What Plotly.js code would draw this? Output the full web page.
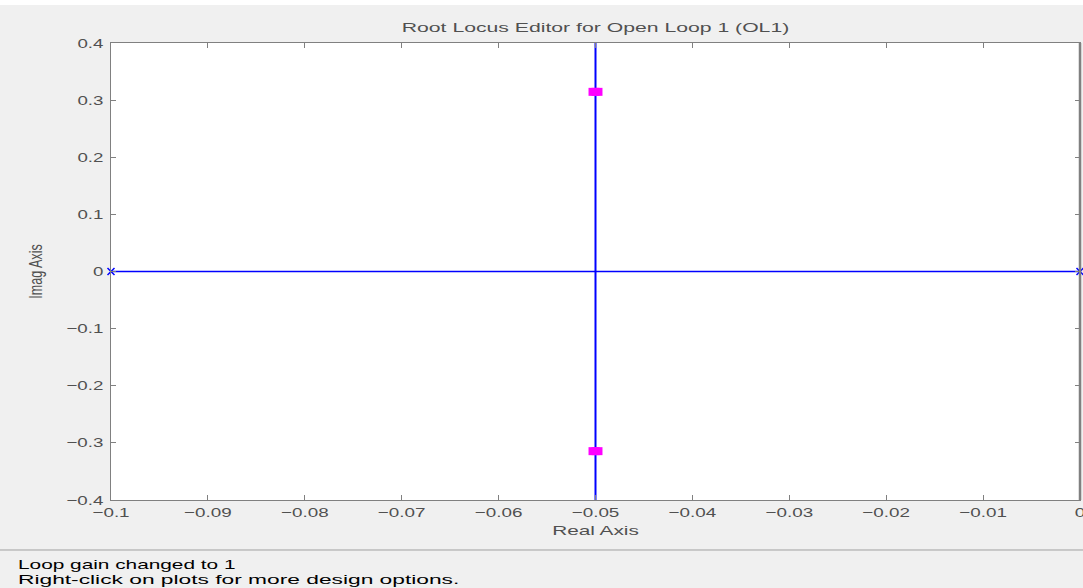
<!DOCTYPE html>
<html>
<head>
<meta charset="utf-8">
<script src="https://cdn.plot.ly/plotly-3.0.1.min.js"></script>
<style>
html,body{margin:0;padding:0;background:#ffffff;}
#chart{position:absolute;left:0;top:5px;width:1083px;height:583px;}
</style>
</head>
<body>
<div id="chart"></div>
<script>
// Root locus data
const realLocusX = [-0.1, 0];
const realLocusY = [0, 0];
const branchX = [-0.05, -0.05];
const branchY = [-0.45, 0.45];
const openPolesX = [-0.1, 0];
const openPolesY = [0, 0];
const closedPolesX = [-0.05, -0.05];
const closedPolesY = [0.3145, -0.3145];
const xTickVals = [-0.1, -0.09, -0.08, -0.07, -0.06, -0.05, -0.04, -0.03, -0.02, -0.01, 0];
const xTickText = ['\u22120.1','\u22120.09','\u22120.08','\u22120.07','\u22120.06','\u22120.05','\u22120.04','\u22120.03','\u22120.02','\u22120.01','0'];
const yTickVals = [-0.4, -0.3, -0.2, -0.1, 0, 0.1, 0.2, 0.3, 0.4];
const yTickText = ['\u22120.4','\u22120.3','\u22120.2','\u22120.1','0','0.1','0.2','0.3','0.4'];
const statusLines = ['Loop gain changed to 1', 'Right-click on plots for more design options.'];

const blue = '#0000ff';
const traces = [
  {x: realLocusX, y: realLocusY, mode: 'lines', line: {color: blue, width: 1.5}, hoverinfo: 'skip', showlegend: false},
  {x: branchX, y: branchY, mode: 'lines', line: {color: blue, width: 2}, hoverinfo: 'skip', showlegend: false},
  {x: openPolesX, y: openPolesY, mode: 'markers', marker: {symbol: 'x-thin', size: 7, color: blue, line: {color: blue, width: 1.5}}, cliponaxis: false, showlegend: false},
  {x: closedPolesX, y: closedPolesY, mode: 'markers',
   marker: {symbol: 'square', size: 8, color: '#ff00ff', line: {width: 0}},
   error_x: {type: 'constant', value: 0.00072, color: '#ff00ff', thickness: 8, width: 0},
   showlegend: false}
];

const fam = 'Liberation Sans, Arial, sans-serif';
const grey = '#505050';
const layout = {
  width: 1083, height: 583,
  margin: {l: 111, r: 3, t: 38, b: 88},
  paper_bgcolor: '#f0f0f0', plot_bgcolor: '#ffffff',
  font: {family: fam, size: 13, color: grey},
  title: {text: 'Root Locus Editor for Open Loop 1 (OL1)', font: {family: fam, size: 13, color: grey}, x: 0.5, xref: 'paper', xanchor: 'center', y: 1, yref: 'paper', yanchor: 'bottom', pad: {b: 11}},
  xaxis: {range: [-0.1, 0], tickvals: xTickVals, ticktext: xTickText, ticks: 'inside', ticklen: 5, tickcolor: '#808080',
          showline: true, linecolor: '#808080', linewidth: 1, mirror: 'ticks', showgrid: false, zeroline: false,
          ticklabeloverflow: 'allow',
          tickfont: {family: fam, size: 13, color: grey},
          title: {text: 'Real Axis', font: {family: fam, size: 13, color: grey}, standoff: 7}},
  yaxis: {range: [-0.4, 0.4], tickvals: yTickVals, ticktext: yTickText, ticks: 'inside', ticklen: 5, tickcolor: '#808080',
          showline: true, linecolor: '#808080', linewidth: 1, mirror: 'ticks', showgrid: false, zeroline: false,
          ticklabeloverflow: 'allow', ticklabelstandoff: 4,
          tickfont: {family: fam, size: 13, color: grey},
          title: {text: 'Imag Axis', font: {family: fam, size: 19, color: grey}, standoff: 30}},
  shapes: [
    {type: 'line', xref: 'paper', yref: 'paper', x0: -0.2, x1: 1.01, y0: -0.1094, y1: -0.1094, line: {color: '#a0a0a0', width: 1}},
    {type: 'line', xref: 'paper', yref: 'paper', x0: 1, x1: 1, y0: 0, y1: 1, line: {color: '#808080', width: 2.5}}
  ],
  annotations: [
    {text: statusLines[0], xref: 'paper', yref: 'paper', x: -0.0978, y: -0.1422, xanchor: 'left', yanchor: 'middle', showarrow: false, font: {family: fam, size: 13, color: '#000000'}},
    {text: statusLines[1], xref: 'paper', yref: 'paper', x: -0.0978, y: -0.175, xanchor: 'left', yanchor: 'middle', showarrow: false, font: {family: fam, size: 13, color: '#000000'}}
  ]
};

// The reference screenshot is horizontally stretched; widen the text glyphs to match.
function stretchEl(t, factor, keepLeft) {
  const w = t.getComputedTextLength();
  if (w > 0) {
    if (keepLeft) {
      const x = parseFloat(t.getAttribute('x')) || 0;
      t.setAttribute('x', (x - w / 2).toFixed(1));
      t.setAttribute('text-anchor', 'start');
      t.style.textAnchor = 'start';
    }
    t.setAttribute('textLength', (w * factor).toFixed(1));
    t.setAttribute('lengthAdjust', 'spacingAndGlyphs');
  }
}
function stretch(sel, factor, keepLeft) {
  document.querySelectorAll(sel).forEach(function (t) { stretchEl(t, factor, keepLeft); });
}

Plotly.newPlot('chart', traces, layout, {displayModeBar: false, staticPlot: true}).then(function () {
  stretch('#chart .gtitle', 1.63);
  stretch('#chart .xtitle', 1.6);
  stretch('#chart .ytitle', 0.66);
  stretch('#chart .xtick text', 1.45);
  stretch('#chart .ytick text', 1.44);
  const ann = document.querySelectorAll('#chart .annotation-text');
  if (ann[0]) stretchEl(ann[0], 1.6, true);
  if (ann[1]) stretchEl(ann[1], 1.75, true);
});
</script>
</body>
</html>
